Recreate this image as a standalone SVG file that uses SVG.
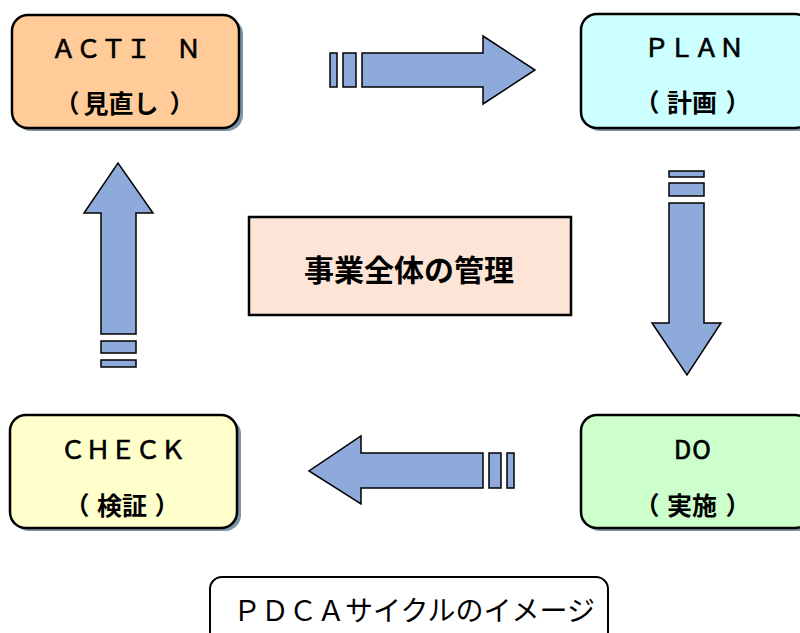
<svg xmlns="http://www.w3.org/2000/svg" width="800" height="633" viewBox="0 0 800 633">
<defs>
<style>
.box{stroke:#000;stroke-width:2.5}
.sh{fill:#7b95a6}
.t{font-family:"Noto Sans CJK JP","Noto Sans",sans-serif;font-weight:bold;font-size:25px;fill:#000;text-anchor:middle}
.l{font-weight:normal;stroke:#000;stroke-width:0.7}
.arr{fill:#8eaadb;stroke:#000;stroke-width:1.5;stroke-linejoin:miter}
</style>
</defs>
<rect width="800" height="633" fill="#fff"/>
<g id="action">
<rect class="sh" x="15" y="18" width="228" height="113" rx="16"/>
<rect class="box" x="12" y="15" width="227" height="113" rx="16" fill="#ffcc99"/>
<text class="t l" x="126" y="58">ＡＣＴＩ　Ｎ</text>
<text class="t" y="113"><tspan x="67">（</tspan><tspan x="121">見直し</tspan><tspan x="182">）</tspan></text>
</g>
<g id="plan">
<rect class="sh" x="584" y="17" width="230" height="114" rx="16"/>
<rect class="box" x="581" y="14" width="230" height="114" rx="16" fill="#ccffff"/>
<text class="t l" x="694" y="57">ＰＬＡＮ</text>
<text class="t" y="112"><tspan x="647">（</tspan><tspan x="692">計画</tspan><tspan x="738">）</tspan></text>
</g>
<g id="check">
<rect class="sh" x="13" y="418" width="228" height="113" rx="16"/>
<rect class="box" x="10" y="415" width="227" height="113" rx="16" fill="#ffffcc"/>
<text class="t l" x="123" y="459">ＣＨＥＣＫ</text>
<text class="t" y="515"><tspan x="77">（</tspan><tspan x="122">検証</tspan><tspan x="167">）</tspan></text>
</g>
<g id="do">
<rect class="sh" x="584" y="418" width="230" height="113" rx="16"/>
<rect class="box" x="581" y="415" width="230" height="113" rx="16" fill="#ccffcc"/>
<text class="t l" x="693" y="459" style="letter-spacing:1px">DO</text>
<text class="t" y="515"><tspan x="647">（</tspan><tspan x="692">実施</tspan><tspan x="738">）</tspan></text>
</g>
<g id="center">
<rect class="box" x="249" y="217" width="322" height="98" fill="#fce4d6"/>
<text class="t" x="409" y="281" style="font-size:30px">事業全体の管理</text>
</g>
<g id="caption">
<rect x="210" y="577" width="398" height="70" rx="12" fill="#fff" stroke="#000" stroke-width="2"/>
<text x="414" y="621" style="font-family:'Noto Sans CJK JP','Noto Sans',sans-serif;font-size:28px;text-anchor:middle">ＰＤＣＡサイクルのイメージ</text>
</g>
<g id="connectors">
<g id="arrow-right">
<rect class="arr" x="330" y="53" width="7" height="34"/>
<rect class="arr" x="343" y="53" width="13" height="34"/>
<path class="arr" d="M362,53 H483 V36 L535,70 L483,104 V87 H362 Z"/>
</g>
<g id="arrow-down">
<rect class="arr" x="669" y="171" width="35" height="6"/>
<rect class="arr" x="669" y="183" width="35" height="13"/>
<path class="arr" d="M669,203 H704 V323 H721 L687,375 L652,323 H669 Z"/>
</g>
<g id="arrow-left">
<rect class="arr" x="507" y="453" width="7" height="35"/>
<rect class="arr" x="489" y="453" width="12" height="35"/>
<path class="arr" d="M483,453 H361 V436 L309,471 L361,504 V488 H483 Z"/>
</g>
<g id="arrow-up">
<rect class="arr" x="101" y="360" width="35" height="7"/>
<rect class="arr" x="101" y="341" width="35" height="12"/>
<path class="arr" d="M101,334 V213 H84 L118,163 L153,213 H136 V334 Z"/>
</g>
</g>
</svg>
